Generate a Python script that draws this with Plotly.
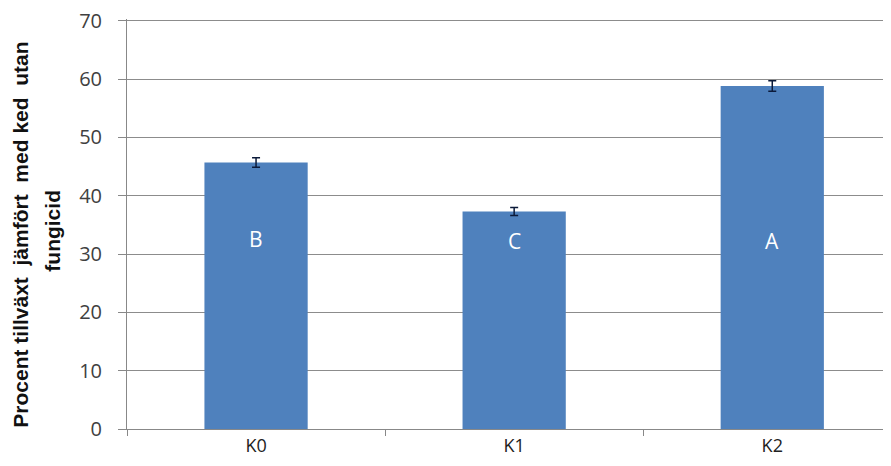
import plotly.graph_objects as go

categories = ["K0", "K1", "K2"]
values = [45.7, 37.3, 58.8]
errors = [0.8, 0.7, 0.9]
letters = ["B", "C", "A"]
letter_y = [32.6, 32.2, 32.2]
y_ticks = [0, 10, 20, 30, 40, 50, 60, 70]
title_line1 = "Procent tillväxt  jämfört  med ked  utan"
title_line2 = "fungicid"

fig = go.Figure()
fig.add_trace(go.Bar(
    x=categories, y=values,
    marker=dict(color="#4F81BD", line=dict(width=0)),
    error_y=dict(type="data", array=errors, visible=True, color="#0b1a3a", thickness=1.5, width=4),
    width=0.4,
))
for c, l, ly in zip(categories, letters, letter_y):
    fig.add_annotation(x=c, y=ly, text=l, showarrow=False,
                       font=dict(color="white", size=21, family="Open Sans"))

for txt, px, py in [(title_line1, -0.1387, 0.474), (title_line2, -0.098, 0.484)]:
    fig.add_annotation(xref="paper", yref="paper", x=px, y=py, text="<b>" + txt + "</b>",
                       textangle=-90, showarrow=False, xanchor="center", yanchor="middle",
                       font=dict(size=21, family="Liberation Sans", color="#111111"))

fig.update_layout(
    width=883, height=458,
    margin=dict(l=119, r=0, t=11, b=37, autoexpand=False),
    plot_bgcolor="white", paper_bgcolor="white",
    showlegend=False,
    font=dict(family="Open Sans", color="#333333"),
)
fig.update_xaxes(
    range=[-0.5, 2.46],
    showline=True, linecolor="#888888", linewidth=1,
    ticks="outside", tickson="boundaries", ticklen=6, tickcolor="#888888",
    tickfont=dict(size=18, color="#222222"),
    showgrid=False,
)
fig.update_yaxes(
    range=[0, 70.3], tickvals=y_ticks,
    showline=True, linecolor="#888888", linewidth=1,
    ticks="outside", ticklen=8, tickcolor="#888888",
    tickfont=dict(size=20, color="#404040"),
    ticklabelstandoff=12, ticklabeloverflow="allow",
    showgrid=True, gridcolor="#8c8c8c", gridwidth=1,
    zeroline=False,
)
fig.write_html("out.html")
